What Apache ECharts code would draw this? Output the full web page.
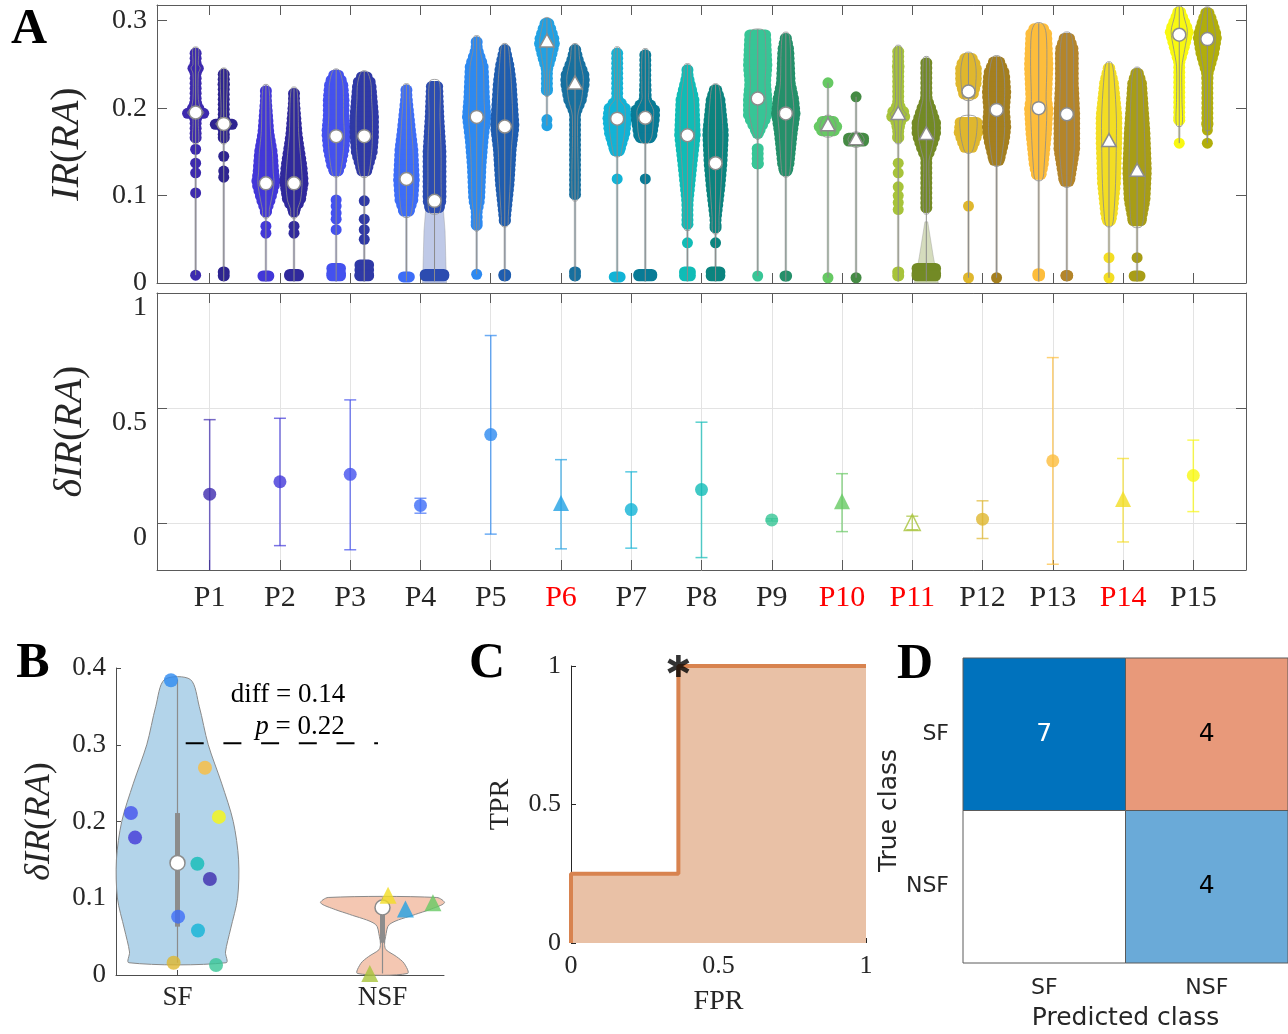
<!DOCTYPE html>
<html>
<head>
<meta charset="utf-8">
<script src="https://cdn.jsdelivr.net/npm/echarts@6/dist/echarts.min.js"></script>
<style>
html, body { margin: 0; padding: 0; background: #fff; }
#main { width: 1288px; height: 1034px; }
</style>
</head>
<body>
<div id="main"></div>
<script>
var SERIF = '"Liberation Serif", "DejaVu Serif", serif';
var SANS = '"DejaVu Sans", sans-serif';
var AXC = '#5a5a5a';
var TXT = '#262626';

// ---- participants ----
var participants = ['P1','P2','P3','P4','P5','P6','P7','P8','P9','P10','P11','P12','P13','P14','P15'];
var participantX = [1,2,3,4,5,6,7,8,9,10,11,12,13,14,15];
var nsfIds = [6, 10, 11, 14];
var lightColors = ['#3d2aae','#4237d8','#4451ee','#3d6df7','#2d89f0','#22a1e3','#12b3d6','#10bcb6','#37c596','#66c963','#a7c33a','#dfb72e','#fdbd3c','#f3dd23','#f8f811'];
var darkColors  = ['#2e2490','#30299c','#2f39a6','#2c4cb0','#1f5daf','#17709f','#097b96','#0b847f','#24906a','#458b44','#738a25','#a47f1f','#b4852a','#a89d16','#b1ae0b'];

// ---- panel A (top): IR(RA) distributions, two per participant ----
var violinMedians = [0.195,0.182, 0.114,0.114, 0.168,0.168, 0.119,0.094, 0.190,0.179,
                     0.276,0.228, 0.188,0.189, 0.169,0.137, 0.211,0.194, 0.180,0.164,
                     0.193,0.170, 0.219,0.198, 0.200,0.193, 0.162,0.128, 0.284,0.279];
// swarm outline: segments of [value, half width]
var swarmBodies = [
  [[[0.269,0.07],[0.25,0.07],[0.246,0.12],[0.24,0.07],[0.21,0.07],[0.2,0.12],[0.195,0.21],[0.19,0.12],[0.187,0.07],[0.16,0.07]]],
  [[[0.245,0.07],[0.23,0.09],[0.2,0.07],[0.187,0.09],[0.182,0.21],[0.177,0.09],[0.16,0.07]], [[0.019,0.07],[0.002,0.07]]],
  [[[0.226,0.07],[0.172,0.12],[0.149,0.17],[0.126,0.19],[0.115,0.21],[0.095,0.14],[0.084,0.09],[0.075,0.07]], [[0.014,0.12],[0.002,0.12]]],
  [[[0.223,0.07],[0.172,0.12],[0.16,0.14],[0.134,0.19],[0.115,0.21],[0.095,0.17],[0.084,0.09],[0.075,0.07]], [[0.016,0.14],[0.002,0.14]]],
  [[[0.244,0.07],[0.229,0.17],[0.21,0.19],[0.191,0.19],[0.172,0.21],[0.153,0.19],[0.134,0.14],[0.122,0.07]], [[0.023,0.14],[0.002,0.14]]],
  [[[0.242,0.07],[0.229,0.17],[0.21,0.19],[0.191,0.21],[0.168,0.21],[0.149,0.19],[0.122,0.09]], [[0.027,0.14],[0.002,0.14]]],
  [[[0.227,0.07],[0.21,0.09],[0.172,0.14],[0.153,0.17],[0.118,0.19],[0.095,0.17],[0.076,0.09]], [[0.012,0.12],[0.002,0.12]]],
  [[[0.231,0.12],[0.19,0.14],[0.15,0.17],[0.12,0.17],[0.094,0.17],[0.08,0.12]], [[0.016,0.21],[0.002,0.21]]],
  [[[0.282,0.07],[0.267,0.09],[0.248,0.17],[0.21,0.19],[0.19,0.21],[0.164,0.17],[0.134,0.14],[0.095,0.12],[0.076,0.07],[0.06,0.05]]],
  [[[0.273,0.07],[0.248,0.14],[0.229,0.17],[0.179,0.21],[0.153,0.17],[0.114,0.14],[0.076,0.09],[0.065,0.07]], [[0.016,0.09],[0.002,0.09]]],
  [[[0.303,0.07],[0.294,0.12],[0.276,0.19],[0.259,0.14],[0.24,0.07],[0.214,0.05]]],
  [[[0.273,0.07],[0.256,0.12],[0.237,0.21],[0.228,0.21],[0.21,0.17],[0.191,0.07],[0.095,0.07]], [[0.019,0.07],[0.002,0.07]]],
  [[[0.269,0.07],[0.21,0.07],[0.202,0.19],[0.188,0.21],[0.172,0.19],[0.153,0.12],[0.145,0.07]], [[0.012,0.12],[0.002,0.12]]],
  [[[0.267,0.07],[0.22,0.09],[0.21,0.09],[0.198,0.21],[0.189,0.21],[0.168,0.17],[0.16,0.07]], [[0.016,0.17],[0.002,0.17]]],
  [[[0.25,0.07],[0.236,0.09],[0.21,0.17],[0.169,0.19],[0.134,0.14],[0.095,0.09],[0.061,0.07]], [[0.019,0.12],[0.002,0.12]]],
  [[[0.227,0.07],[0.21,0.14],[0.172,0.19],[0.137,0.17],[0.11,0.14],[0.076,0.09],[0.057,0.07]], [[0.019,0.14],[0.002,0.14]]],
  [[[0.29,0.12],[0.286,0.19],[0.248,0.21],[0.229,0.19],[0.211,0.21],[0.191,0.21],[0.165,0.05]], [[0.16,0.09],[0.13,0.07]]],
  [[[0.286,0.07],[0.267,0.12],[0.229,0.14],[0.21,0.19],[0.194,0.21],[0.172,0.17],[0.134,0.12],[0.122,0.07]], [[0.014,0.09],[0.002,0.09]]],
  [[[0.191,0.09],[0.18,0.21],[0.168,0.12]]],
  [[[0.172,0.09],[0.164,0.21],[0.156,0.09]]],
  [[[0.271,0.07],[0.248,0.09],[0.21,0.07],[0.198,0.12],[0.193,0.21],[0.187,0.12],[0.17,0.07],[0.16,0.07]], [[0.019,0.07],[0.002,0.07]]],
  [[[0.258,0.07],[0.21,0.09],[0.2,0.14],[0.183,0.21],[0.17,0.21],[0.153,0.14],[0.14,0.07],[0.08,0.07]], [[0.023,0.21],[0.002,0.21]]],
  [[[0.263,0.09],[0.248,0.19],[0.229,0.19],[0.21,0.12]], [[0.19,0.19],[0.172,0.21],[0.156,0.14],[0.149,0.07]]],
  [[[0.259,0.09],[0.24,0.19],[0.217,0.21],[0.198,0.19],[0.179,0.21],[0.164,0.19],[0.141,0.12],[0.134,0.07]]],
  [[[0.297,0.09],[0.286,0.19],[0.248,0.21],[0.21,0.19],[0.2,0.21],[0.172,0.19],[0.134,0.14],[0.118,0.09]], [[0.017,0.09],[0.002,0.09]]],
  [[[0.286,0.09],[0.267,0.17],[0.229,0.17],[0.193,0.19],[0.153,0.19],[0.118,0.12],[0.11,0.07]], [[0.015,0.09],[0.002,0.09]]],
  [[[0.252,0.07],[0.229,0.14],[0.191,0.19],[0.162,0.19],[0.114,0.17],[0.076,0.12],[0.065,0.07]]],
  [[[0.246,0.07],[0.229,0.14],[0.172,0.19],[0.128,0.21],[0.095,0.19],[0.065,0.12]], [[0.014,0.12],[0.002,0.12]]],
  [[[0.316,0.07],[0.305,0.12],[0.288,0.21],[0.267,0.14],[0.248,0.07],[0.21,0.07],[0.18,0.07]]],
  [[[0.315,0.07],[0.301,0.14],[0.282,0.21],[0.263,0.17],[0.24,0.09],[0.19,0.07],[0.175,0.07]]]
];
// single points outside the swarm
var swarmDots = [
  [0.153,0.137,0.126,0.103,0.009], [0.145,0.128,0.121],
  [0.065,0.057], [0.065,0.057],
  [0.095,0.088,0.08,0.073,0.061], [0.094,0.073,0.061,0.05],
  [], [],
  [0.01], [],
  [0.187,0.18], [],
  [0.119], [0.119],
  [0.046], [0.046],
  [0.008], [],
  [0.229,0.006], [0.213,0.006],
  [0.137,0.126,0.11,0.1,0.092,0.084], [],
  [0.088,0.006], [0.006],
  [], [],
  [0.029,0.006], [0.029],
  [0.16], [0.16,0.175]
];
// visible density shading below the swarm (only where wide)
var kdeShapes = [null,null,null,null,null,null,null,
  [[0.09,0.12],[0.06,0.15],[0.0,0.17]],
  null,null,null,null,null,null,null,null,null,null,null,null,null,
  [[0.07,0.02],[0.03,0.1],[0.0,0.17]],
  null,null,null,null,null,null,null,null];

// ---- panel A (bottom): delta IR(RA) with intervals ----
var deltaMean = [0.125, 0.179, 0.211, 0.076, 0.384, 0.086, 0.058, 0.145, 0.013, 0.094, 0.002, 0.016, 0.270, 0.104, 0.206];
var deltaLo   = [-0.23, -0.099, -0.117, 0.042, -0.049, -0.113, -0.110, -0.151, 0.008, -0.038, -0.030, -0.068, -0.180, -0.083, 0.049];
var deltaHi   = [0.449, 0.455, 0.535, 0.107, 0.815, 0.275, 0.222, 0.438, 0.018, 0.214, 0.029, 0.096, 0.719, 0.280, 0.360];

// ---- panel B ----
var groupNames = ['SF', 'NSF'];
var groupX = [1, 2];
var swarmX = [1.158, 0.793, 0.773, 1.003, 0.968, 2.112, 1.100, 1.097, 1.188, 2.246, 1.938, 0.981, 1.134, 2.027, 1.202];
var sfViolin  = [[0.385,0.063],[0.35,0.106],[0.30,0.150],[0.25,0.215],[0.20,0.272],[0.15,0.298],[0.10,0.293],[0.06,0.259],[0.03,0.234],[0.016,0.237]];
var nsfViolin = [[0.101,0.265],[0.094,0.302],[0.085,0.228],[0.079,0.161],[0.066,0.034],[0.05,0.015],[0.04,0.01],[0.033,0.017],[0.024,0.068],[0.015,0.106],[0.002,0.122]];
var sfBox  = [0.016, 0.063, 0.146, 0.211, 0.385];
var nsfBox = [0.002, 0.042, 0.088, 0.092, 0.101];
var sigBar = [1.04, 1.978, 0.302];

// ---- panel C: ROC ----
var rocFpr = [0, 0, 0.364, 0.364, 1];
var rocTpr = [0, 0.25, 0.25, 1, 1];
var bestPoint = [0.364, 1];

// ---- panel D: confusion matrix ----
var classNames = ['SF', 'NSF'];
var confCounts = [[7, 4], [0, 4]];
var cellColors = [['#0072bd', '#e8997a'], ['#ffffff', '#6aaad8']];

function isNsf(p) { return nsfIds.indexOf(p) >= 0; }

var myChart = echarts.init(document.getElementById('main'));

function outlinePts(api, x0, seg, k) {
    var left = [], right = [];
    for (var j = 0; j < seg.length; j++) {
        left.push(api.coord([x0 - seg[j][1] * k, seg[j][0]]));
        right.unshift(api.coord([x0 + seg[j][1] * k, seg[j][0]]));
    }
    return left.concat(right);
}

function medianMarker(c, tri, r) {
    if (tri) {
        return {type: 'polygon', shape: {points: [[c[0], c[1] - r * 1.2], [c[0] - r * 1.1, c[1] + r * 0.8], [c[0] + r * 1.1, c[1] + r * 0.8]]},
            style: {fill: '#fff', stroke: '#8c8c8c', lineWidth: 1.5}};
    }
    return {type: 'circle', shape: {cx: c[0], cy: c[1], r: r}, style: {fill: '#fff', stroke: '#8c8c8c', lineWidth: 1.5}};
}

// dense swarm drawn as rows of round-capped strokes (dot radius DOT_R)
var DOT_R = 5.5;
function swarmRows(api, x0, seg, col, kids) {
    var cx = api.coord([x0, 0])[0];
    var ys = seg.map(function (q) { return api.coord([x0, q[0]])[1]; });
    var hs = seg.map(function (q) { return api.size([q[1], 0])[0]; });
    var yt = ys[0] + DOT_R, yb = ys[ys.length - 1] - DOT_R;
    if (yb < yt) { yt = yb = (ys[0] + ys[ys.length - 1]) / 2; }
    function hAt(y) {
        if (y <= ys[0]) return hs[0];
        for (var j = 1; j < ys.length; j++) {
            if (y <= ys[j]) {
                var t = (y - ys[j - 1]) / Math.max(ys[j] - ys[j - 1], 1e-6);
                return hs[j - 1] + t * (hs[j] - hs[j - 1]);
            }
        }
        return hs[hs.length - 1];
    }
    for (var y = yt; y <= yb + 0.01; y += 5) {
        var c = Math.max(hAt(y) - DOT_R, 0.5);
        kids.push({type: 'line', shape: {x1: cx - c, y1: y, x2: cx + c, y2: y},
            style: {stroke: col, lineWidth: DOT_R * 2, lineCap: 'round'}});
        if (yb - y < 5 && yb - y > 0.01) { y = yb - 5; }
    }
}

function renderViolin(params, api) {
    var i = params.dataIndex;
    var p = Math.floor(i / 2);
    var x0 = api.value(0);
    var col = i % 2 ? darkColors[p] : lightColors[p];
    var segs = swarmBodies[i];
    var kids = [];
    var lo = Infinity, hi = -Infinity;
    segs.forEach(function (s) { s.forEach(function (q) { lo = Math.min(lo, q[0]); hi = Math.max(hi, q[0]); }); });
    swarmDots[i].forEach(function (v) { lo = Math.min(lo, v); hi = Math.max(hi, v); });
    var kde = kdeShapes[i] || [[hi, 0.012], [lo, 0.012]];
    kids.push({type: 'polygon', shape: {points: outlinePts(api, x0, kde, 1)},
        style: {fill: echarts.color.modifyAlpha(col, 0.3), stroke: 'rgba(140,140,140,0.6)', lineWidth: 0.6}});
    segs.forEach(function (s) { swarmRows(api, x0, s, col, kids); });
    swarmDots[i].forEach(function (v) {
        var c = api.coord([x0, v]);
        kids.push({type: 'circle', shape: {cx: c[0], cy: c[1], r: DOT_R}, style: {fill: col}});
    });
    segs.forEach(function (s) {
        if (s.length > 2) {
            kids.push({type: 'polygon', shape: {points: outlinePts(api, x0, s, 0.55), smooth: 0.3},
                style: {fill: 'none', stroke: '#8c8c8c', lineWidth: 0.8}});
        }
    });
    var a = api.coord([x0, lo]), b = api.coord([x0, hi]);
    kids.push({type: 'line', shape: {x1: a[0], y1: a[1], x2: b[0], y2: b[1]}, style: {stroke: '#8c8c8c', lineWidth: 1}});
    kids.push(medianMarker(api.coord([x0, api.value(1)]), isNsf(p + 1), 6.5));
    return {type: 'group', children: kids};
}

function renderErr(params, api) {
    var p = params.dataIndex;
    var x = api.value(0);
    var lo = api.coord([x, api.value(1)]), hi = api.coord([x, api.value(2)]);
    var st = {stroke: echarts.color.modifyAlpha(lightColors[p], 0.7), lineWidth: 1.5};
    var w = 6;
    return {type: 'group', children: [
        {type: 'line', shape: {x1: lo[0], y1: lo[1], x2: hi[0], y2: hi[1]}, style: st},
        {type: 'line', shape: {x1: lo[0] - w, y1: lo[1], x2: lo[0] + w, y2: lo[1]}, style: st},
        {type: 'line', shape: {x1: hi[0] - w, y1: hi[1], x2: hi[0] + w, y2: hi[1]}, style: st}
    ]};
}

function renderGroupViolin(params, api) {
    var g = params.dataIndex;
    var x0 = api.value(0);
    var prof = g === 0 ? sfViolin : nsfViolin;
    var box = g === 0 ? sfBox : nsfBox;
    var fill = g === 0 ? '#b3d4ea' : '#f4c7b2';
    var a = api.coord([x0, box[0]]), b = api.coord([x0, box[4]]);
    var q1 = api.coord([x0, box[1]]), q3 = api.coord([x0, box[3]]);
    return {type: 'group', children: [
        {type: 'polygon', shape: {points: outlinePts(api, x0, prof, 1), smooth: 0.3},
            style: {fill: fill, stroke: '#8a8a8a', lineWidth: 1}},
        {type: 'line', shape: {x1: a[0], y1: a[1], x2: b[0], y2: b[1]}, style: {stroke: '#8c8c8c', lineWidth: 1.2}},
        {type: 'line', shape: {x1: q1[0], y1: q1[1], x2: q3[0], y2: q3[1]}, style: {stroke: '#8c8c8c', lineWidth: 5}},
        medianMarker(api.coord([x0, box[2]]), false, 7.5)
    ]};
}

function renderCell(params, api) {
    var c = api.coord([api.value(0), api.value(1)]);
    var s = api.size([1, 1]);
    var v = api.value(2);
    var r = api.value(1), k = api.value(0);
    var kids = [{type: 'rect', shape: {x: c[0] - s[0] / 2, y: c[1] - s[1] / 2, width: s[0], height: s[1]},
        style: {fill: cellColors[r][k], stroke: '#5a5a5a', lineWidth: 1}}];
    if (v > 0) {
        kids.push({type: 'text', style: {text: String(v), x: c[0], y: c[1], align: 'center', verticalAlign: 'middle',
            fill: (r === 0 && k === 0) ? '#fff' : '#000', fontSize: 25, fontFamily: SANS}});
    }
    return {type: 'group', children: kids};
}

// data built from the arrays above
var violinData = [];
participantX.forEach(function (x, p) {
    violinData.push([x - 0.2, violinMedians[2 * p]]);
    violinData.push([x + 0.2, violinMedians[2 * p + 1]]);
});
var errData = participantX.map(function (x, p) { return [x, deltaLo[p], deltaHi[p]]; });
var ptData = participantX.map(function (x, p) {
    var tri = isNsf(p + 1);
    var hollow = (p + 1) === 11;
    return {
        value: [x, deltaMean[p]],
        symbol: tri ? 'triangle' : 'circle',
        symbolSize: tri ? 16 : 13,
        itemStyle: hollow ? {color: 'rgba(0,0,0,0)', borderColor: lightColors[p], borderWidth: 1.5} : {color: lightColors[p]}
    };
});
var groupPts = participantX.map(function (x, p) {
    var tri = isNsf(p + 1);
    return {value: [swarmX[p], deltaMean[p]], symbol: tri ? 'triangle' : 'circle', symbolSize: tri ? 17 : 14,
        itemStyle: {color: lightColors[p]}};
});
var rocData = rocFpr.map(function (f, i) { return [f, rocTpr[i]]; });
var cellData = [];
confCounts.forEach(function (row, r) { row.forEach(function (v, k) { cellData.push([k, r, v]); }); });

var italicRich = {
    i: {fontFamily: SERIF, fontStyle: 'italic', fontSize: 40, color: TXT},
    n: {fontFamily: SERIF, fontSize: 40, color: TXT}
};
function mirrorX(grid, vals) {
    return {gridIndex: grid, type: 'value', position: 'top', min: 0.25, max: 15.75,
        axisLine: {show: true, onZero: false, lineStyle: {color: AXC}},
        axisTick: {show: true, inside: true, length: 10, customValues: vals, lineStyle: {color: AXC}},
        axisLabel: {show: false}, splitLine: {show: false}};
}
function mirrorY(grid, mn, mx, vals) {
    return {gridIndex: grid, type: 'value', position: 'right', min: mn, max: mx,
        axisLine: {show: true, onZero: false, lineStyle: {color: AXC}},
        axisTick: {show: true, inside: true, length: 10, customValues: vals, lineStyle: {color: AXC}},
        axisLabel: {show: false}, splitLine: {show: false}};
}

var option = {
    backgroundColor: '#fff',
    animation: false,
    grid: [
        {left: 157, top: 5, width: 1089, height: 278},
        {left: 157, top: 293, width: 1089, height: 277},
        {left: 116, top: 668, width: 328, height: 307},
        {left: 571, top: 666, width: 295, height: 277},
        {left: 963, top: 658, width: 326, height: 305}
    ],
    xAxis: [
        {gridIndex: 0, type: 'value', min: 0.25, max: 15.75,
            axisLine: {show: true, onZero: false, lineStyle: {color: AXC}},
            axisTick: {show: true, inside: true, length: 10, customValues: participantX, lineStyle: {color: AXC}},
            axisLabel: {show: false}, splitLine: {show: false}},
        mirrorX(0, participantX),
        {gridIndex: 1, type: 'value', min: 0.25, max: 15.75,
            axisLine: {show: true, onZero: false, lineStyle: {color: AXC}},
            axisTick: {show: true, inside: true, length: 10, customValues: participantX, lineStyle: {color: AXC}},
            axisLabel: {customValues: participantX, fontFamily: SERIF, fontSize: 30, color: TXT, margin: 13,
                formatter: function (v) {
                    var p = Math.round(v);
                    return isNsf(p) ? '{r|' + participants[p - 1] + '}' : participants[p - 1];
                },
                rich: {r: {fontFamily: SERIF, fontSize: 30, color: '#ff0000'}}},
            splitLine: {show: true, lineStyle: {color: '#e3e3e3', width: 1}}},
        mirrorX(1, participantX),
        {gridIndex: 2, type: 'value', min: 0.7, max: 2.3,
            axisLine: {show: true, onZero: false, lineStyle: {color: '#4d4d4d'}},
            axisTick: {show: true, inside: true, length: 5, customValues: groupX, lineStyle: {color: '#4d4d4d'}},
            axisLabel: {customValues: groupX, fontFamily: SERIF, fontSize: 27, color: TXT, margin: 9,
                formatter: function (v) { return groupNames[Math.round(v) - 1]; }},
            splitLine: {show: false}},
        {gridIndex: 3, type: 'value', min: 0, max: 1, interval: 0.5,
            axisLine: {show: false, onZero: false},
            axisTick: {show: true, inside: true, length: 5, lineStyle: {color: TXT}},
            axisLabel: {fontFamily: SERIF, fontSize: 26, color: TXT, margin: 10},
            splitLine: {show: false},
            name: 'FPR', nameLocation: 'middle', nameGap: 45,
            nameTextStyle: {fontFamily: SERIF, fontSize: 28, color: TXT}},
        {gridIndex: 4, type: 'category', data: classNames,
            axisLine: {show: false}, axisTick: {show: false},
            axisLabel: {fontFamily: SANS, fontSize: 22, color: TXT, margin: 14},
            name: 'Predicted class', nameLocation: 'middle', nameGap: 43,
            nameTextStyle: {fontFamily: SANS, fontSize: 25, color: TXT}}
    ],
    yAxis: [
        {gridIndex: 0, type: 'value', min: 0, max: 0.318,
            axisLine: {show: true, onZero: false, lineStyle: {color: AXC}},
            axisTick: {show: true, inside: true, length: 10, customValues: [0, 0.1, 0.2, 0.3], lineStyle: {color: AXC}},
            axisLabel: {customValues: [0, 0.1, 0.2, 0.3], fontFamily: SERIF, fontSize: 28, color: TXT, margin: 10},
            splitLine: {show: false},
            name: '{i|IR}{n|(}{i|RA}{n|)}', nameLocation: 'middle', nameGap: 70, nameRotate: 90,
            nameTextStyle: {fontFamily: SERIF, fontSize: 40, color: TXT, rich: italicRich}},
        mirrorY(0, 0, 0.318, [0, 0.1, 0.2, 0.3]),
        {gridIndex: 1, type: 'value', min: -0.205, max: 1,
            axisLine: {show: true, onZero: false, lineStyle: {color: AXC}},
            axisTick: {show: true, inside: true, length: 10, customValues: [0, 0.5, 1], lineStyle: {color: AXC}},
            axisLabel: {customValues: [0, 0.5, 1], fontFamily: SERIF, fontSize: 28, color: TXT, margin: 10,
                verticalAlign: 'top', lineHeight: 30},
            splitLine: {show: true, lineStyle: {color: '#e3e3e3', width: 1}},
            name: '{i|δIR}{n|(}{i|RA}{n|)}', nameLocation: 'middle', nameGap: 67, nameRotate: 90,
            nameTextStyle: {fontFamily: SERIF, fontSize: 40, color: TXT, rich: italicRich}},
        mirrorY(1, -0.205, 1, [0, 0.5, 1]),
        {gridIndex: 2, type: 'value', min: 0, max: 0.4, interval: 0.1,
            axisLine: {show: true, onZero: false, lineStyle: {color: '#4d4d4d'}},
            axisTick: {show: true, inside: true, length: 5, lineStyle: {color: '#4d4d4d'}},
            axisLabel: {fontFamily: SERIF, fontSize: 27, color: TXT, margin: 10},
            splitLine: {show: false},
            name: '{i|δIR}{n|(}{i|RA}{n|)}', nameLocation: 'middle', nameGap: 58, nameRotate: 90,
            nameTextStyle: {fontFamily: SERIF, fontSize: 36, color: TXT, rich: {
                i: {fontFamily: SERIF, fontStyle: 'italic', fontSize: 36, color: TXT},
                n: {fontFamily: SERIF, fontSize: 36, color: TXT}}}},
        {gridIndex: 3, type: 'value', min: 0, max: 1, interval: 0.5,
            axisLine: {show: true, onZero: false, lineStyle: {color: TXT}},
            axisTick: {show: true, inside: true, length: 5, lineStyle: {color: TXT}},
            axisLabel: {fontFamily: SERIF, fontSize: 26, color: TXT, margin: 10},
            splitLine: {show: false},
            name: 'TPR', nameLocation: 'middle', nameGap: 56, nameRotate: 90,
            nameTextStyle: {fontFamily: SERIF, fontSize: 28, color: TXT}},
        {gridIndex: 4, type: 'category', data: classNames, inverse: true,
            axisLine: {show: false}, axisTick: {show: false},
            axisLabel: {fontFamily: SANS, fontSize: 22, color: TXT, margin: 14},
            name: 'True class', nameLocation: 'middle', nameGap: 49, nameRotate: 90,
            nameTextStyle: {fontFamily: SANS, fontSize: 25, color: TXT}}
    ],
    series: [
        {type: 'custom', xAxisIndex: 0, yAxisIndex: 0, renderItem: renderViolin, data: violinData, silent: true},
        {type: 'custom', xAxisIndex: 2, yAxisIndex: 2, renderItem: renderErr, data: errData, clip: true, silent: true},
        {type: 'scatter', xAxisIndex: 2, yAxisIndex: 2, data: ptData, silent: true},
        {type: 'custom', xAxisIndex: 4, yAxisIndex: 4, renderItem: renderGroupViolin, data: groupX.map(function (x) { return [x]; }), silent: true},
        {type: 'scatter', xAxisIndex: 4, yAxisIndex: 4, data: groupPts, silent: true},
        {type: 'line', xAxisIndex: 4, yAxisIndex: 4, data: [[sigBar[0], sigBar[2]], [sigBar[1], sigBar[2]]],
            showSymbol: false, symbol: 'none', lineStyle: {color: '#000', width: 2, type: [18, 19.7]}, silent: true},
        {type: 'line', xAxisIndex: 5, yAxisIndex: 5, data: rocData, showSymbol: false, symbol: 'none',
            lineStyle: {color: '#d8834f', width: 4}, areaStyle: {color: '#e9c1a6', opacity: 1}, silent: true},
        {type: 'scatter', xAxisIndex: 5, yAxisIndex: 5, data: [bestPoint], symbolSize: 22,
            symbol: 'path://M-2,-10L2,-10L2,10L-2,10ZM7.66,-6.73L9.66,-3.27L-7.66,6.73L-9.66,3.27ZM-9.66,-3.27L-7.66,-6.73L9.66,3.27L7.66,6.73Z',
            itemStyle: {color: '#000'}, z: 5, silent: true},
        {type: 'custom', xAxisIndex: 6, yAxisIndex: 6, renderItem: renderCell, data: cellData, silent: true}
    ],
    graphic: [
        {type: 'text', x: 29, y: 30, style: {text: 'A', align: 'center', verticalAlign: 'middle', fontFamily: SERIF, fontWeight: 'bold', fontSize: 50, fill: '#000'}},
        {type: 'text', x: 33, y: 664, style: {text: 'B', align: 'center', verticalAlign: 'middle', fontFamily: SERIF, fontWeight: 'bold', fontSize: 50, fill: '#000'}},
        {type: 'text', x: 487, y: 664, style: {text: 'C', align: 'center', verticalAlign: 'middle', fontFamily: SERIF, fontWeight: 'bold', fontSize: 50, fill: '#000'}},
        {type: 'text', x: 915, y: 665, style: {text: 'D', align: 'center', verticalAlign: 'middle', fontFamily: SERIF, fontWeight: 'bold', fontSize: 50, fill: '#000'}},
        {type: 'text', x: 288, y: 695, style: {text: 'diff = 0.14', align: 'center', verticalAlign: 'middle', fontFamily: SERIF, fontSize: 27, fill: '#000'}},
        {type: 'text', x: 300, y: 727, style: {text: '{i|p} = 0.22', align: 'center', verticalAlign: 'middle', fontFamily: SERIF, fontSize: 27, fill: '#000',
            rich: {i: {fontFamily: SERIF, fontStyle: 'italic', fontSize: 27, fill: '#000'}}}},
        {type: 'text', x: 731, y: 917, style: {text: '{i|δIR}: AUC = 0.73', align: 'center', verticalAlign: 'middle', fontFamily: SERIF, fontSize: 28, fill: '#000',
            rich: {i: {fontFamily: SERIF, fontStyle: 'italic', fontSize: 28, fill: '#000'}}}}
    ]
};
myChart.setOption(option);
</script>
</body>
</html>
